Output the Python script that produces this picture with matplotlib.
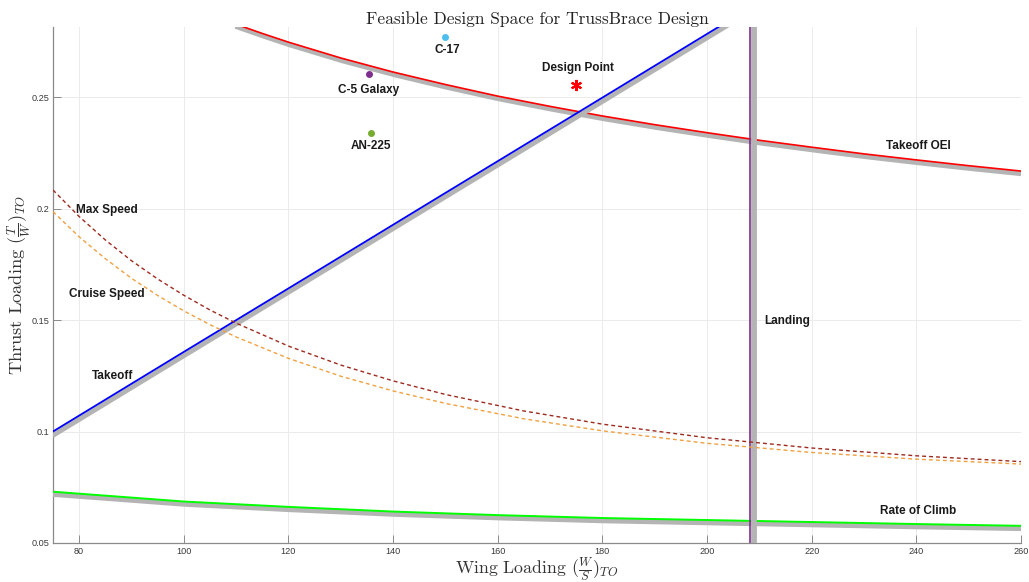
import matplotlib
matplotlib.use("Agg")
import matplotlib.pyplot as plt
import matplotlib.patheffects as pe

plt.rcParams['mathtext.fontset'] = 'cm'
plt.rcParams['axes.unicode_minus'] = False

# ---- data ----
oei_x = [110, 115, 120, 130, 140, 150, 160, 170, 180, 190, 200, 210, 220, 230, 240, 250, 260]
oei_y = [0.2826, 0.2785, 0.2746, 0.2675, 0.2612, 0.2556, 0.2504, 0.2458, 0.2415, 0.2376,
         0.2340, 0.2306, 0.2275, 0.2245, 0.2218, 0.2192, 0.2168]

takeoff_x = [75, 100, 125, 150, 175, 200, 225]
takeoff_y = [0.1000, 0.1357, 0.1713, 0.2070, 0.2426, 0.2783, 0.3139]

speed_x = [75, 80, 85, 90, 95, 100, 105, 110, 120, 130, 140, 150, 165, 180, 200, 220, 240, 260]
maxspeed_y = [0.2083, 0.1964, 0.1859, 0.1766, 0.1684, 0.1611, 0.1545, 0.1486, 0.1383,
              0.1298, 0.1227, 0.1166, 0.1092, 0.1033, 0.0972, 0.0926, 0.0891, 0.0865]
cruise_y = [0.1986, 0.1873, 0.1775, 0.1687, 0.1610, 0.1541, 0.1479, 0.1424, 0.1328,
            0.1248, 0.1182, 0.1126, 0.1057, 0.1003, 0.0947, 0.0906, 0.0876, 0.0854]

climb_x = [75, 100, 120, 140, 160, 180, 200, 220, 240, 260]
climb_y = [0.0730, 0.0686, 0.0662, 0.0641, 0.0625, 0.0612, 0.0603, 0.0594, 0.0585, 0.0577]

landing_ws = 208.2

aircraft_names = ['C-17', 'C-5 Galaxy', 'AN-225']
aircraft_ws = [150.0, 135.4, 135.8]
aircraft_tw = [0.2769, 0.2603, 0.2339]
aircraft_colors = ['#4DBEEE', '#7E2F8E', '#77AC30']

design_ws = 175.0
design_tw = 0.2554

x_ticks = [80, 100, 120, 140, 160, 180, 200, 220, 240, 260]
y_ticks = [0.05, 0.1, 0.15, 0.2, 0.25]
y_tick_labels = ['0.05', '0.1', '0.15', '0.2', '0.25']

# ---- figure ----
fig = plt.figure(figsize=(10.29, 5.82), dpi=100)
ax = fig.add_axes([53/1029, 1 - 543/582, (1021 - 53)/1029, (543 - 27)/582])

shadow = [pe.SimpleLineShadow(offset=(1.2, -2.0), shadow_color='#b4b4b4', alpha=1.0,
                              rho=1.0, linewidth=3.6), pe.Normal()]
vshadow = [pe.SimpleLineShadow(offset=(2.6, 0), shadow_color='#b4b4b4', alpha=1.0,
                               rho=1.0, linewidth=4.2), pe.Normal()]

ax.plot(oei_x, oei_y, color='#FF0000', lw=1.2, path_effects=shadow, zorder=3)
ax.plot(takeoff_x, takeoff_y, color='#0000FF', lw=1.3, path_effects=shadow, zorder=3)
ax.plot(climb_x, climb_y, color='#00FF00', lw=1.4, path_effects=shadow, zorder=3)
ax.axvline(landing_ws, color='#7E2F8E', lw=1.2, path_effects=vshadow, zorder=3)

ax.plot(speed_x, maxspeed_y, color='#9E2A1E', lw=1.0, ls=(0, (2.8, 2.2)), zorder=4)
ax.plot(speed_x, cruise_y, color='#F0A040', lw=1.0, ls=(0, (2.8, 2.2)), zorder=4)

for name, xv, yv, c in zip(aircraft_names, aircraft_ws, aircraft_tw, aircraft_colors):
    ax.plot([xv], [yv], 'o', color=c, ms=4, zorder=5)

ax.plot([design_ws], [design_tw], marker=(6, 2, 0), color='#FF0000', ms=8, mew=1.5,
        linestyle='none', zorder=5)

lab = dict(fontsize=8.5, fontweight='bold', family='Liberation Sans', color='#1a1a1a',
           ha='center', va='center', zorder=6)
ax.text(150.3, 0.2711, 'C-17', **lab)
ax.text(135.4, 0.2531, 'C-5 Galaxy', **lab)
ax.text(135.8, 0.2280, 'AN-225', **lab)
ax.text(175.4, 0.2630, 'Design Point', **lab)
ax.text(240.3, 0.2280, 'Takeoff OEI', **lab)
ax.text(85.3, 0.1993, 'Max Speed', **lab)
ax.text(85.3, 0.1617, 'Cruise Speed', **lab)
ax.text(86.3, 0.1249, 'Takeoff', **lab)
ax.text(215.3, 0.1495, 'Landing', **lab)
ax.text(240.3, 0.0645, 'Rate of Climb', **lab)

ax.set_xlim(75, 260)
ax.set_ylim(0.05, 0.2814)
ax.set_xticks(x_ticks)
ax.set_yticks(y_ticks)
ax.set_yticklabels(y_tick_labels)

ax.grid(True, color='#ebebeb', lw=0.7)
ax.set_axisbelow(True)
for s in ['top', 'right']:
    ax.spines[s].set_visible(False)
for s in ['left', 'bottom']:
    ax.spines[s].set_color('#8a8a8a')
    ax.spines[s].set_linewidth(0.9)
ax.tick_params(direction='in', length=6, width=0.7, color='#8a8a8a',
               labelsize=6.6, labelcolor='#3a3a3a', pad=3)
ax.tick_params(axis='y', pad=2.5)
for t in ax.get_xticklabels() + ax.get_yticklabels():
    t.set_family('Liberation Sans')

ax.set_title('Feasible Design Space for TrussBrace Design', family='cmr10',
             fontsize=12.5, pad=2, color='#222222')
ax.set_xlabel(r'Wing Loading $(\frac{W}{S})_{TO}$', family='cmr10', fontsize=12.8,
              labelpad=0, color='#333333')
ax.set_ylabel(r'Thrust Loading $(\frac{T}{W})_{TO}$', family='cmr10', fontsize=13.2,
              labelpad=-1, color='#333333')

fig.savefig('out.png', dpi=100)
